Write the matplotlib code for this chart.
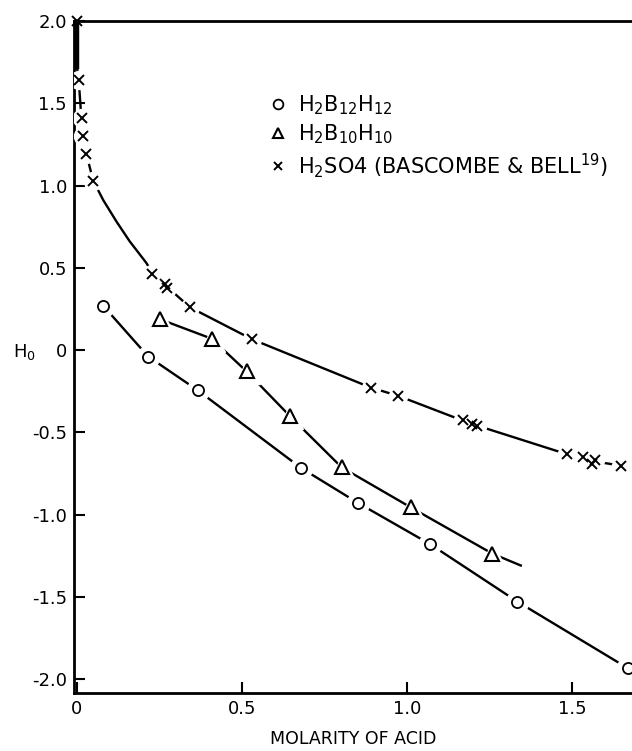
import numpy as np
import matplotlib
matplotlib.use("Agg")
import matplotlib.pyplot as plt
from matplotlib.lines import Line2D

plt.rcParams['font.family'] = ['DejaVu Sans']
plt.rcParams['axes.unicode_minus'] = False

# H2B12H12 (circles)
b12_x = [0.079, 0.216, 0.366, 0.679, 0.852, 1.070, 1.335, 1.670]
b12_y = [0.27, -0.04, -0.245, -0.717, -0.93, -1.18, -1.53, -1.935]

# H2B10H10 (triangles)
b10_x = [0.253, 0.408, 0.514, 0.646, 0.802, 1.011, 1.259]
b10_y = [0.186, 0.069, -0.13, -0.403, -0.713, -0.956, -1.238]
# hand drawn curve runs a bit past the last point
b10_curve_x = b10_x + [1.345]
b10_curve_y = b10_y + [-1.31]

# H2SO4, Bascombe & Bell (crosses)
so4_x = [0.0, 0.006, 0.014, 0.017, 0.027, 0.049, 0.228, 0.268, 0.272, 0.342,
         0.531, 0.890, 0.974, 1.171, 1.196, 1.211, 1.484, 1.534, 1.560,
         1.570, 1.650]
so4_y = [2.0, 1.64, 1.41, 1.30, 1.19, 1.03, 0.46, 0.40, 0.378, 0.26,
         0.065, -0.228, -0.279, -0.426, -0.447, -0.461, -0.633, -0.653,
         -0.693, -0.669, -0.703]
# smooth curve through the crosses
so4_curve_x = [0.0, 0.0, 0.006, 0.013, 0.020, 0.030, 0.049, 0.080, 0.120,
               0.160, 0.210, 0.228, 0.270, 0.342, 0.531, 0.890, 0.974,
               1.190, 1.500, 1.560, 1.650]
so4_curve_y = [1.98, 1.72, 1.62, 1.42, 1.30, 1.18, 1.03, 0.91, 0.78,
               0.66, 0.53, 0.47, 0.39, 0.26, 0.065, -0.228, -0.279,
               -0.445, -0.643, -0.675, -0.703]

xticks = [0, 0.5, 1.0, 1.5]
xtick_labels = ["0", "0.5", "1.0", "1.5"]
yticks = [2.0, 1.5, 1.0, 0.5, 0, -0.5, -1.0, -1.5, -2.0]
ytick_labels = ["2.0", "1.5", "1.0", "0.5", "0", "-0.5", "-1.0", "-1.5", "-2.0"]

fig = plt.figure(figsize=(6.32, 7.51), dpi=100)
ax = fig.add_axes([74 / 632, 1 - 693 / 751, 1 - 74 / 632, (693 - 21) / 751])

lw = 1.7
halo = dict(linestyle='none', markerfacecolor='white', markeredgecolor='white', zorder=3)

# curves
ax.plot(b12_x, b12_y, color='black', lw=lw, zorder=2)
ax.plot(b10_curve_x, b10_curve_y, color='black', lw=lw, zorder=2)
ax.plot(so4_curve_x, so4_curve_y, color='black', lw=lw, zorder=2, clip_on=False)
ax.plot([0, 0], [so4_curve_y[0], so4_curve_y[1]], color='black', lw=3.2, zorder=2,
        clip_on=False)

# white halos make the little gaps in the line around each mark
ax.plot(b12_x, b12_y, marker='o', markersize=16, **halo)
ax.plot(b10_x, b10_y, marker='^', markersize=18, **halo)
ax.plot(so4_x[1:], so4_y[1:], marker='o', markersize=13, **halo)

ax.plot(b12_x, b12_y, linestyle='none', marker='o', markersize=8,
        markerfacecolor='white', markeredgecolor='black', markeredgewidth=1.3, zorder=4)
ax.plot(b10_x, b10_y, linestyle='none', marker='^', markersize=10,
        markerfacecolor='white', markeredgecolor='black', markeredgewidth=1.5, zorder=4)
ax.plot(so4_x, so4_y, linestyle='none', marker='x', markersize=7,
        color='black', markeredgewidth=1.4, zorder=4, clip_on=False)

ax.set_xlim(-0.009, 1.682)
ax.set_ylim(-2.085, 2.0)

ax.set_xticks(xticks)
ax.set_xticklabels(xtick_labels)
ax.set_yticks(yticks)
ax.set_yticklabels(ytick_labels)
ax.tick_params(direction='in', length=8, width=1.5, labelsize=13, pad=5)

for side in ['left', 'bottom', 'top']:
    ax.spines[side].set_linewidth(2)
ax.spines['right'].set_visible(False)

ax.set_xlabel("MOLARITY OF ACID", fontsize=12.5, labelpad=9)
fig.text(13 / 632, 1 - 352 / 751, "H$_0$", fontsize=13, ha='left', va='center')

handles = [
    Line2D([], [], linestyle='none', marker='o', markersize=7, markerfacecolor='white',
           markeredgecolor='black', markeredgewidth=1.3),
    Line2D([], [], linestyle='none', marker='^', markersize=7, markerfacecolor='white',
           markeredgecolor='black', markeredgewidth=1.5),
    Line2D([], [], linestyle='none', marker='x', markersize=6, color='black',
           markeredgewidth=1.4),
]
labels = ["H$_2$B$_{12}$H$_{12}$", "H$_2$B$_{10}$H$_{10}$",
          "H$_2$SO4 (BASCOMBE & BELL$^{19}$)"]
ax.legend(handles, labels, loc='upper left', bbox_to_anchor=(0.335, 0.905),
          frameon=False, fontsize=15, handlelength=0.8, handletextpad=0.6,
          labelspacing=0.25, borderaxespad=0)

fig.savefig("out.png", dpi=100)
